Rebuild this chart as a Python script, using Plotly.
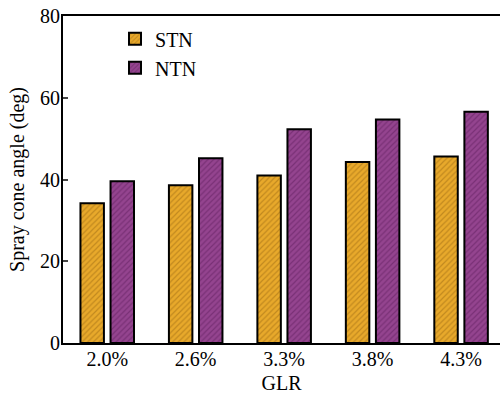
import plotly.graph_objects as go

categories = ["2.0%", "2.6%", "3.3%", "3.8%", "4.3%"]
stn_values = [34.2, 38.6, 41.0, 44.3, 45.6]
ntn_values = [39.6, 45.2, 52.3, 54.7, 56.6]
y_ticks = [0, 20, 40, 60, 80]

FONT = "Liberation Serif, Times New Roman, serif"

fig = go.Figure()
fig.add_trace(go.Bar(
    x=categories, y=stn_values, name="STN",
    marker=dict(color="#E8A92B", line=dict(color="black", width=2),
                pattern=dict(shape="/", fgcolor="rgba(90,50,0,0.55)", size=4, solidity=0.3, fillmode="overlay")),
))
fig.add_trace(go.Bar(
    x=categories, y=ntn_values, name="NTN",
    marker=dict(color="#94448F", line=dict(color="black", width=2),
                pattern=dict(shape="/", fgcolor="rgba(50,0,50,0.55)", size=4, solidity=0.3, fillmode="overlay")),
))

fig.update_layout(
    width=500, height=394,
    margin=dict(l=63, r=0, t=16, b=51, autoexpand=False),
    plot_bgcolor="white", paper_bgcolor="white",
    font=dict(family=FONT, size=20, color="black"),
    barmode="group", bargap=0.32, bargroupgap=0.22,
    legend=dict(x=0.119, y=0.99, xanchor="left", yanchor="top",
                font=dict(size=20), bgcolor="rgba(0,0,0,0)",
                itemsizing="constant", tracegroupgap=0),
    xaxis=dict(range=[-0.5, 4.44], showline=True, linecolor="black", linewidth=2,
               mirror=True, ticks="", ticklabelstandoff=-3,
               title=dict(text="GLR", standoff=7, font=dict(size=20)),
               tickfont=dict(size=20), automargin=False),
    yaxis=dict(range=[0, 80], tickvals=y_ticks, showline=True, linecolor="black",
               linewidth=2, ticks="inside", ticklen=5, tickwidth=2, showgrid=False,
               zeroline=False, ticklabeloverflow="allow", ticklabelstandoff=-3,
               title=dict(text="Spray cone angle (deg)", standoff=10, font=dict(size=20)),
               tickfont=dict(size=20), automargin=False),
)

# remove the browser's default 8px page margin so the figure fills the window
fig.write_html("out.html", config={"displayModeBar": False},
               post_script="document.body.style.margin='0';")
